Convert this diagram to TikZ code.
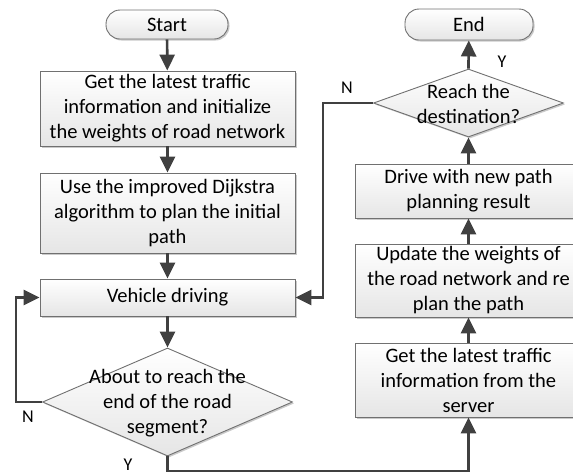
\documentclass[tikz,border=0pt]{standalone}
\usepackage{fontspec}
\setmainfont{Carlito}
\usetikzlibrary{arrows.meta,shapes.geometric,shadows}
\definecolor{edgegray}{HTML}{707070}
\definecolor{arrgray}{HTML}{404040}
\tikzset{
  boxbase/.style={draw=edgegray, line width=0.9pt, top color=white, bottom color=black!10,
    drop shadow={shadow xshift=1.5pt, shadow yshift=-1.5pt, opacity=0.35, fill=black!60},
    inner sep=0pt, align=center, font=\fontsize{20.5}{25}\selectfont},
  procbox/.style={boxbase, rectangle},
  termbox/.style={boxbase, rectangle, rounded corners=14pt},
  decbox/.style={boxbase, diamond, aspect=2},
  dectext/.style={align=center, font=\fontsize{20.5}{25}\selectfont, inner sep=0pt},
  flow/.style={draw=arrgray, line width=2.7pt, -{Triangle[length=16pt,width=15pt]}},
  lbl/.style={font=\fontsize{18}{20}\selectfont, inner sep=0pt}
}
\begin{document}
\begin{tikzpicture}[x=1pt,y=-1pt]
\useasboundingbox (0,0) rectangle (573,475);
% left column
\node[termbox, minimum width=122pt, minimum height=29pt] (start) at (167,24.5) {Start};
\node[procbox, minimum width=255pt, minimum height=75pt] (b1) at (167.5,108.5)
  {Get the latest traffic\\information and initialize\\the weights of road network};
\node[procbox, minimum width=255pt, minimum height=80pt] (b2) at (167.5,213)
  {Use the improved Dijkstra\\algorithm to plan the initial\\path};
\node[procbox, minimum width=255pt, minimum height=37pt] (vd) at (167.5,297.5) {Vehicle driving};
\node[decbox, minimum width=250pt, minimum height=108pt] (d1) at (167.5,402) {};
\node[dectext] (d1t) at (167.5,403) {About to reach the\\end of the road\\segment?};
% right column
\node[termbox, minimum width=128pt, minimum height=31pt] (end) at (469,24.5) {End};
\node[decbox, minimum width=190pt, minimum height=68pt] (d2) at (468.5,103) {};
\node[dectext] (d2t) at (468.5,104) {Reach the\\destination?};
\node[procbox, minimum width=226pt, minimum height=54pt] (drive) at (468.5,191)
  {Drive with new path\\planning result};
\node[procbox, minimum width=226pt, minimum height=73pt] (upd) at (468.5,280.5)
  {Update the weights of\\the road network and re\\plan the path};
\node[procbox, minimum width=226pt, minimum height=74pt] (srv) at (468.5,380)
  {Get the latest traffic\\information from the\\server};
% connector corners
\coordinate (nl) at (16,402);
\coordinate (yb) at (167.5,471);
\coordinate (nr) at (323,103);
% connectors
\draw[flow] (start) -- (b1);
\draw[flow] (b1) -- (b2);
\draw[flow] (b2) -- (vd);
\draw[flow] (vd) -- (d1.north);
\draw[flow] (d1.west) -- (nl) |- (vd.west);
\draw[flow] (d1.south) -- (yb) -| (srv.south);
\draw[flow] (srv) -- (upd);
\draw[flow] (upd) -- (drive);
\draw[flow] (drive) -- (d2.south);
\draw[flow] (d2.north) -- (end);
\draw[flow] (d2.west) -- (nr) |- (vd.east);
% labels
\node[lbl] (ln1) at (28,417) {N};
\node[lbl] (ly1) at (128,465) {Y};
\node[lbl] (ln2) at (347,88) {N};
\node[lbl] (ly2) at (502,62) {Y};
\end{tikzpicture}
\end{document}
